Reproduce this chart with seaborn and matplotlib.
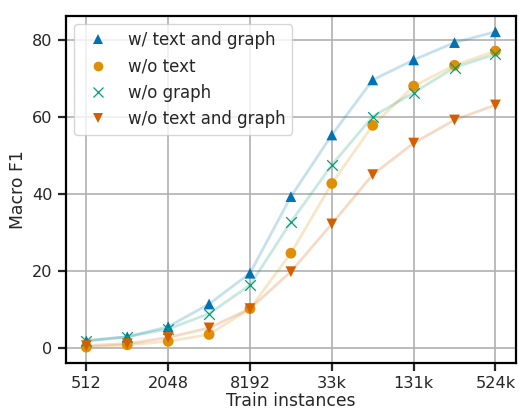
import numpy as np
import pandas as pd
import matplotlib
matplotlib.use('Agg')
import matplotlib.pyplot as plt
from matplotlib.lines import Line2D
import seaborn as sns

# training set sizes (powers of two, 512 .. 524288)
train_sizes = [512, 1024, 2048, 4096, 8192, 16384, 32768, 65536, 131072, 262144, 524288]

# Macro F1 per setting
f1_full = [1.9, 3.0, 5.6, 11.5, 19.5, 39.4, 55.4, 69.7, 74.9, 79.4, 82.2]
f1_no_text = [0.3, 0.9, 1.8, 3.6, 10.3, 24.7, 42.8, 57.9, 68.1, 73.5, 77.2]
f1_no_graph = [2.0, 3.0, 5.0, 9.0, 16.4, 32.8, 47.6, 60.2, 66.4, 72.9, 76.4]
f1_none = [0.7, 1.2, 2.8, 5.3, 10.3, 19.9, 32.3, 45.1, 53.3, 59.3, 63.2]

setting_names = ['w/ text and graph', 'w/o text', 'w/o graph', 'w/o text and graph']
tick_values = [512, 2048, 8192, 32768, 131072, 524288]
tick_labels = ['512', '2048', '8192', '33k', '131k', '524k']

sns.set_style('ticks')
pal = sns.color_palette('colorblind')
colors = [pal[0], pal[1], pal[2], pal[3]]
markers = ['^', 'o', 'x', 'v']

fig, ax = plt.subplots(figsize=(5.19, 4.11), dpi=100)

handles = []
for name, vals, c, m in zip(setting_names, [f1_full, f1_no_text, f1_no_graph, f1_none], colors, markers):
    df = pd.DataFrame({'size': train_sizes, 'f1': vals})
    sns.lineplot(data=df, x='size', y='f1', color=c, alpha=0.22, linewidth=2.0, ax=ax)
    if m == 'x':
        sns.scatterplot(data=df, x='size', y='f1', color=c, marker=m, s=58, linewidth=0.9, ax=ax, zorder=3)
        handles.append(Line2D([], [], linestyle='none', marker=m, color=c, markersize=7, markeredgewidth=0.9, label=name))
    else:
        sns.scatterplot(data=df, x='size', y='f1', color=c, marker=m, s=60, edgecolor='none', ax=ax, zorder=3)
        handles.append(Line2D([], [], linestyle='none', marker=m, color=c, markersize=7, markeredgewidth=0, label=name))

ax.set_xscale('log', base=2)
ax.set_xticks(tick_values)
ax.set_xticklabels(tick_labels)
ax.minorticks_off()
ax.grid(True, color='#b0b0b0', linewidth=1.2)
ax.set_axisbelow(True)

for s in ax.spines.values():
    s.set_linewidth(1.6)
    s.set_color('black')
ax.tick_params(axis='both', labelsize=11.6, width=1.6, length=6)
ax.set_xlabel('Train instances', fontsize=12.4, labelpad=1)
ax.set_ylabel('Macro F1', fontsize=12.4)
ax.legend(handles=handles, loc='upper left', fontsize=12)

fig.subplots_adjust(left=0.127, right=0.994, top=0.961, bottom=0.117)
plt.savefig('out.png', dpi=100)
